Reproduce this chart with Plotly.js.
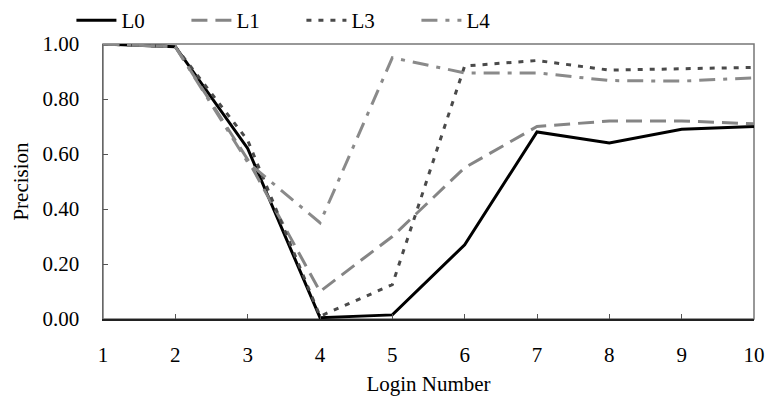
<!DOCTYPE html>
<html>
<head>
<meta charset="utf-8">
<script src="https://cdn.plot.ly/plotly-3.0.1.min.js"></script>
<style>html,body{margin:0;padding:0;background:#fff;}#chart{width:768px;height:402px;}</style>
</head>
<body>
<div id="chart"></div>
<script>
const logins = [1, 2, 3, 4, 5, 6, 7, 8, 9, 10];
const seriesNames = ["L0", "L1", "L3", "L4"];
const L0 = [1.00, 0.99, 0.62, 0.005, 0.015, 0.27, 0.68, 0.64, 0.69, 0.70];
const L1 = [1.00, 0.99, 0.58, 0.10, 0.30, 0.55, 0.70, 0.72, 0.72, 0.71];
const L3 = [1.00, 0.99, 0.65, 0.01, 0.125, 0.92, 0.94, 0.905, 0.91, 0.915];
const L4 = [1.00, 0.99, 0.57, 0.35, 0.95, 0.895, 0.895, 0.867, 0.865, 0.877];
const yTickVals = [0, 0.2, 0.4, 0.6, 0.8, 1.0];
const yTickText = ["0.00", "0.20", "0.40", "0.60", "0.80", "1.00"];

const styles = [
  {color: "#000000", width: 3, dash: "solid"},
  {color: "#858585", width: 3, dash: "16px,8px"},
  {color: "#4a4a4a", width: 3, dash: "5px,7px"},
  {color: "#8a8a8a", width: 3, dash: "16px,8px,4px,8px"}
];
const allY = [L0, L1, L3, L4];
const traces = allY.map((ys, i) => ({
  x: logins, y: ys, name: seriesNames[i], type: "scatter", mode: "lines",
  line: styles[i], cliponaxis: false
}));

const font = {family: "Liberation Serif, Times New Roman, serif", size: 21, color: "#000"};
const layout = {
  width: 768, height: 402,
  margin: {l: 103, r: 14, t: 44, b: 83, pad: 0},
  paper_bgcolor: "#fff", plot_bgcolor: "#fff",
  font: font,
  showlegend: true,
  legend: {orientation: "h", xref: "container", x: 0.093, xanchor: "left",
           yref: "container", y: 1.0, yanchor: "top",
           entrywidth: 60, entrywidthmode: "pixels", itemwidth: 40,
           font: {family: font.family, size: 21, color: "#000"}, bgcolor: "rgba(0,0,0,0)"},
  xaxis: {
    range: [1, 10], tickvals: logins, ticktext: logins.map(String),
    showgrid: false, zeroline: false, showline: true, linecolor: "#222", linewidth: 1.5,
    ticks: "inside", ticklen: 5, tickcolor: "#555", tickwidth: 1,
    ticklabelstandoff: 16,
    tickfont: font, title: {text: "Login Number", font: font, standoff: 10}
  },
  yaxis: {
    range: [0, 1], tickvals: yTickVals, ticktext: yTickText,
    showgrid: false, zeroline: false, showline: true, linecolor: "#666", linewidth: 1.5,
    ticks: "inside", ticklen: 5, tickcolor: "#555", tickwidth: 1,
    ticklabelstandoff: 18,
    tickfont: font, title: {text: "Precision", font: font, standoff: 8}
  },
  shapes: [{type: "rect", xref: "paper", yref: "paper", x0: 0, x1: 1, y0: 0, y1: 1,
            line: {color: "#777", width: 1.5}, fillcolor: "rgba(0,0,0,0)", layer: "below"}]
};
Plotly.newPlot("chart", traces, layout, {displayModeBar: false, staticPlot: true});
</script>
</body>
</html>
